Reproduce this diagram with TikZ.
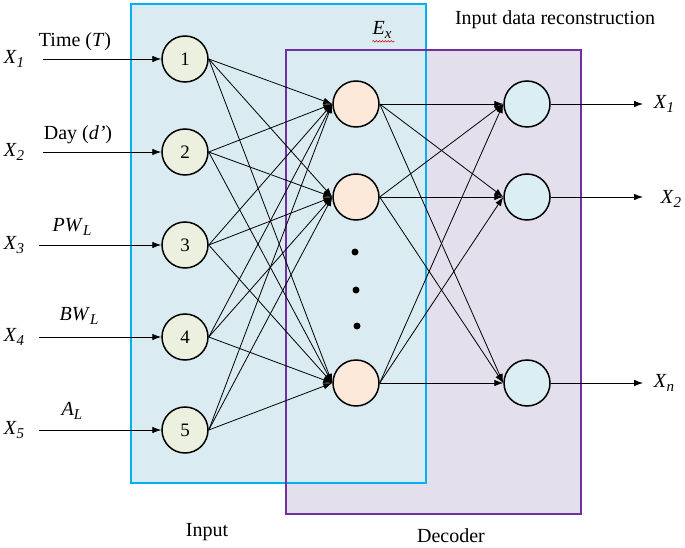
\documentclass[tikz,border=0pt]{standalone}
\usepackage{fontspec}
\setmainfont{Liberation Serif}
\usetikzlibrary{arrows.meta,decorations.pathmorphing}
\definecolor{bluefill}{HTML}{DAECF2}
\definecolor{blueline}{HTML}{00B0F0}
\definecolor{purplefill}{HTML}{E4DFEC}
\definecolor{purpleline}{HTML}{7030A0}
\definecolor{infill}{HTML}{EBF1DE}
\definecolor{hidfill}{HTML}{FDE9D9}
\definecolor{outfill}{HTML}{DAEEF3}
\newcommand\xsub[2]{\textit{#1}\raisebox{-0.35ex}{\fontsize{15}{15}\selectfont\textit{#2}}}
\begin{document}
\begin{tikzpicture}[x=1pt,y=-1pt,
  txt/.style={font=\fontsize{20}{24}\selectfont, inner sep=0pt},
  neuron/.style={circle, draw=black, line width=1.5pt, minimum size=46pt, inner sep=0pt, font=\fontsize{19}{22}\selectfont},
  inn/.style={neuron, fill=infill},
  hid/.style={neuron, fill=hidfill},
  outn/.style={neuron, fill=outfill},
  conn/.style={line width=0.8pt, -{Latex[length=9pt,width=6.5pt]}},
  dotn/.style={circle, fill=black, inner sep=0pt, minimum size=7pt}
]
\useasboundingbox (0,0) rectangle (685,548);
% boxes
\fill[purplefill] (286,50) rectangle (581,514);
\fill[bluefill] (131,4) rectangle (426,483);
\draw[blueline, line width=2pt] (131,4) rectangle (426,483);
\draw[purpleline, line width=2pt] (286,50) rectangle (581,514);
% input nodes
\foreach \i/\y in {1/59,2/152,3/245,4/337,5/430}{
  \node[inn] (n\i) at (185,\y) {\i};
}
% hidden nodes
\node[hid] (h1) at (356,104) {};
\node[hid] (h2) at (356,197) {};
\node[hid] (h3) at (356,383) {};
\node[dotn] (d1) at (355,252) {};
\node[dotn] (d2) at (356,290) {};
\node[dotn] (d3) at (357,326) {};
% output nodes
\node[outn] (o1) at (527,104) {};
\node[outn] (o2) at (527,197) {};
\node[outn] (o3) at (527,383) {};
% connections
\foreach \i in {1,...,5}{
  \foreach \j in {1,2,3}{
    \draw[conn] (n\i.east) -- (h\j.west);
  }
}
\foreach \i in {1,2,3}{
  \foreach \j in {1,2,3}{
    \draw[conn] (h\i.east) -- (o\j.west);
  }
}
% inputs
\coordinate (s1) at (43,59);
\coordinate (s2) at (43,152);
\coordinate (s3) at (39,245);
\coordinate (s4) at (39,337);
\coordinate (s5) at (39,430);
\foreach \i in {1,...,5}{
  \draw[conn] (s\i) -- (n\i.west);
}
\node[txt] (xl1) at (14,59) {\xsub{X}{1}};
\node[txt] (xl2) at (14,152) {\xsub{X}{2}};
\node[txt] (xl3) at (14,245) {\xsub{X}{3}};
\node[txt] (xl4) at (14,337) {\xsub{X}{4}};
\node[txt] (xl5) at (14,430) {\xsub{X}{5}};
\node[txt] (t1) at (75,42) {Time (\textit{T})};
\node[txt] (t2) at (78,135) {Day (\textit{d’})};
\node[txt] (t3) at (72,227) {\xsub{PW}{L}};
\node[txt] (t4) at (79,316) {\xsub{BW}{L}};
\node[txt] (t5) at (72,411) {\xsub{A}{L}};
% outputs
\coordinate (e1) at (643,104);
\coordinate (e2) at (643,197);
\coordinate (e3) at (643,383);
\foreach \i in {1,2,3}{
  \draw[conn] (o\i.east) -- (e\i);
}
\node[txt] (y1) at (664,104) {\xsub{X}{1}};
\node[txt] (y2) at (671,199) {\xsub{X}{2}};
\node[txt] (y3) at (664,383) {\xsub{X}{n}};
% titles
\node[txt] (ex) at (382,30) {\xsub{E}{x}};
\draw[red!80!black, line width=0.5pt, decorate, decoration={snake, amplitude=0.8pt, segment length=3pt}] (ex.south west) ++(0,3) -- ++(22,0);
\node[txt] (rec) at (555,20) {Input data reconstruction};
\node[txt] (inl) at (207,532) {Input};
\node[txt] (dec) at (451,536) {Decoder};
\end{tikzpicture}
\end{document}
